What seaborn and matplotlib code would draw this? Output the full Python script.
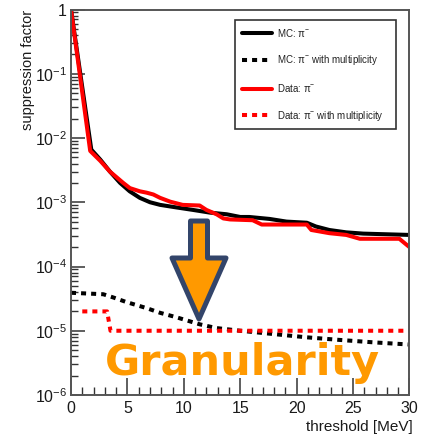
import numpy as np
import pandas as pd
import matplotlib
matplotlib.use("Agg")
import matplotlib.pyplot as plt
from matplotlib.patches import Polygon
from matplotlib.ticker import LogLocator, FixedLocator, FuncFormatter, NullFormatter
import seaborn as sns

# ---- data -------------------------------------------------------------
mc_x = [0, 1.8, 2.6, 3.45, 4.35, 5.2, 6.1, 7.0, 7.9, 9.35, 10.8, 12.3, 13.8,
        15.0, 15.8, 17.6, 19.1, 20.9, 21.7, 22.9, 24.4, 25.9, 30.0]
mc_y = [1.0, 6.6e-3, 4.6e-3, 3.0e-3, 2.0e-3, 1.48e-3, 1.17e-3, 1.0e-3, 9.1e-4,
        8.3e-4, 7.6e-4, 6.9e-4, 6.5e-4, 5.9e-4, 5.9e-4, 5.5e-4, 5.0e-4, 4.8e-4,
        4.2e-4, 3.7e-4, 3.4e-4, 3.25e-4, 3.1e-4]

data_x = [0, 1.7, 2.6, 3.45, 4.63, 5.22, 6.1, 6.7, 7.3, 7.9, 8.8, 9.9, 11.4,
          12.0, 12.9, 13.5, 14.1, 16.1, 16.9, 20.9, 21.3, 22.9, 24.4, 25.6,
          29.1, 30.0]
data_y = [1.0, 6.3e-3, 4.4e-3, 3.0e-3, 2.0e-3, 1.66e-3, 1.48e-3, 1.41e-3,
          1.32e-3, 1.17e-3, 1.02e-3, 9.1e-4, 8.9e-4, 7.6e-4, 6.5e-4, 5.6e-4,
          5.4e-4, 5.25e-4, 4.5e-4, 4.5e-4, 3.7e-4, 3.3e-4, 3.1e-4, 2.7e-4,
          2.7e-4, 2.0e-4]

mc_mult_x = [0, 2.86, 3.74, 4.9, 6.7, 7.9, 9.35, 11.4, 12.9, 15.0, 17.9,
             20.9, 23.8, 26.8, 30.0]
mc_mult_y = [3.9e-5, 3.7e-5, 3.3e-5, 2.8e-5, 2.25e-5, 1.9e-5, 1.62e-5,
             1.26e-5, 1.1e-5, 1.0e-5, 8.9e-6, 7.9e-6, 7.2e-6, 6.6e-6, 6.1e-6]

data_mult_x = [1.0, 3.2, 3.5, 30.0]
data_mult_y = [2.0e-5, 2.0e-5, 1.0e-5, 1.0e-5]

series = [
    ("MC: $\\pi^{-}$", mc_x, mc_y, "black", "-"),
    ("MC: $\\pi^{-}$ with multiplicity", mc_mult_x, mc_mult_y, "black", (0, (1.25, 1.25))),
    ("Data: $\\pi^{-}$", data_x, data_y, "#ff0000", "-"),
    ("Data: $\\pi^{-}$ with multiplicity", data_mult_x, data_mult_y, "#ff0000", (0, (1.25, 1.25))),
]

x_ticks = [0, 5, 10, 15, 20, 25, 30]

# ---- style ------------------------------------------------------------
sns.set_theme(style="white")
plt.rcParams["font.family"] = ["Liberation Sans", "DejaVu Sans"]
plt.rcParams["mathtext.fontset"] = "custom"
plt.rcParams["mathtext.rm"] = "Liberation Sans"
plt.rcParams["mathtext.it"] = "Liberation Sans"
plt.rcParams["mathtext.default"] = "regular"

fig = plt.figure(figsize=(4.35, 4.41), dpi=100)
ax = fig.add_axes([71 / 435, 46 / 441, 338.5 / 435, 385.5 / 441])

for label, xs, ys, color, ls in series:
    df = pd.DataFrame({"threshold": xs, "factor": ys})
    sns.lineplot(data=df, x="threshold", y="factor", ax=ax, color=color,
                 linewidth=2.9, linestyle=ls, label=label, sort=False)

ax.set_yscale("log")
ax.set_xlim(0, 30)
ax.set_ylim(1e-6, 1)

# frame and ticks
frame_col = "#555555"
for sp in ax.spines.values():
    sp.set_color(frame_col)
    sp.set_linewidth(1.4)

ax.xaxis.set_major_locator(FixedLocator(x_ticks))
ax.xaxis.set_minor_locator(FixedLocator(np.arange(0, 31, 1)))
ax.yaxis.set_major_locator(LogLocator(base=10, numticks=10))
ax.yaxis.set_minor_locator(LogLocator(base=10, subs=np.arange(2, 10), numticks=10))
ax.yaxis.set_minor_formatter(NullFormatter())


def log_label(v, pos):
    e = int(round(np.log10(v)))
    return "1" if e == 0 else "$10^{%d}$" % e


ax.yaxis.set_major_formatter(FuncFormatter(log_label))
ax.tick_params(axis="both", which="both", direction="in", colors="#333333",
               labelcolor="#1a1a1a", labelsize=11.5, top=False, right=False,
               left=True, bottom=True)
ax.tick_params(axis="x", which="major", length=12, width=1.1, pad=4)
ax.tick_params(axis="x", which="minor", length=6, width=1.0)
ax.tick_params(axis="y", which="major", length=10, width=1.1, pad=3)
ax.tick_params(axis="y", which="minor", length=5, width=1.0)

ax.set_ylabel("suppression factor", fontsize=10.5, color="#1a1a1a", va="center")
ax.yaxis.set_label_coords(-0.128, 1.0)
ax.yaxis.label.set_horizontalalignment("right")
ax.set_xlabel("threshold [MeV]", fontsize=11, color="#1a1a1a", va="center")
ax.xaxis.set_label_coords(1.01, -0.083)
ax.xaxis.label.set_horizontalalignment("right")

leg = ax.legend(loc="upper left",
                bbox_to_anchor=((235 - 71) / 338.5, (395 - 122) / 385.5,
                                (396 - 235) / 338.5, (122 - 20) / 385.5),
                mode="expand", borderaxespad=0, fontsize=7, frameon=True,
                fancybox=False, edgecolor="black", handlelength=3.1,
                handletextpad=0.55, labelspacing=1.5, borderpad=0.7)
leg.get_frame().set_linewidth(1.2)
for t in leg.get_texts():
    t.set_color("#222222")

# annotation arrow (axes-fraction coordinates)
def fx(px):
    return (px - 71) / 338.5


def fy(py):
    return (395 - py) / 385.5


arrow_pts = [(fx(190.5), fy(221)), (fx(207.5), fy(221)), (fx(207.5), fy(258)),
             (fx(226), fy(258)), (fx(199), fy(319)), (fx(172), fy(258)),
             (fx(190.5), fy(258))]
ax.add_patch(Polygon(arrow_pts, closed=True, transform=ax.transAxes,
                     facecolor="#ff9900", edgecolor="#33456a", linewidth=3.6,
                     joinstyle="round", zorder=5))

ax.text(fx(105), fy(375), "Granularity", transform=ax.transAxes,
        fontsize=31, fontweight="bold", color="#ff9900", ha="left",
        va="baseline", family=["DejaVu Sans"], zorder=6)

fig.savefig("out.png", dpi=100)
